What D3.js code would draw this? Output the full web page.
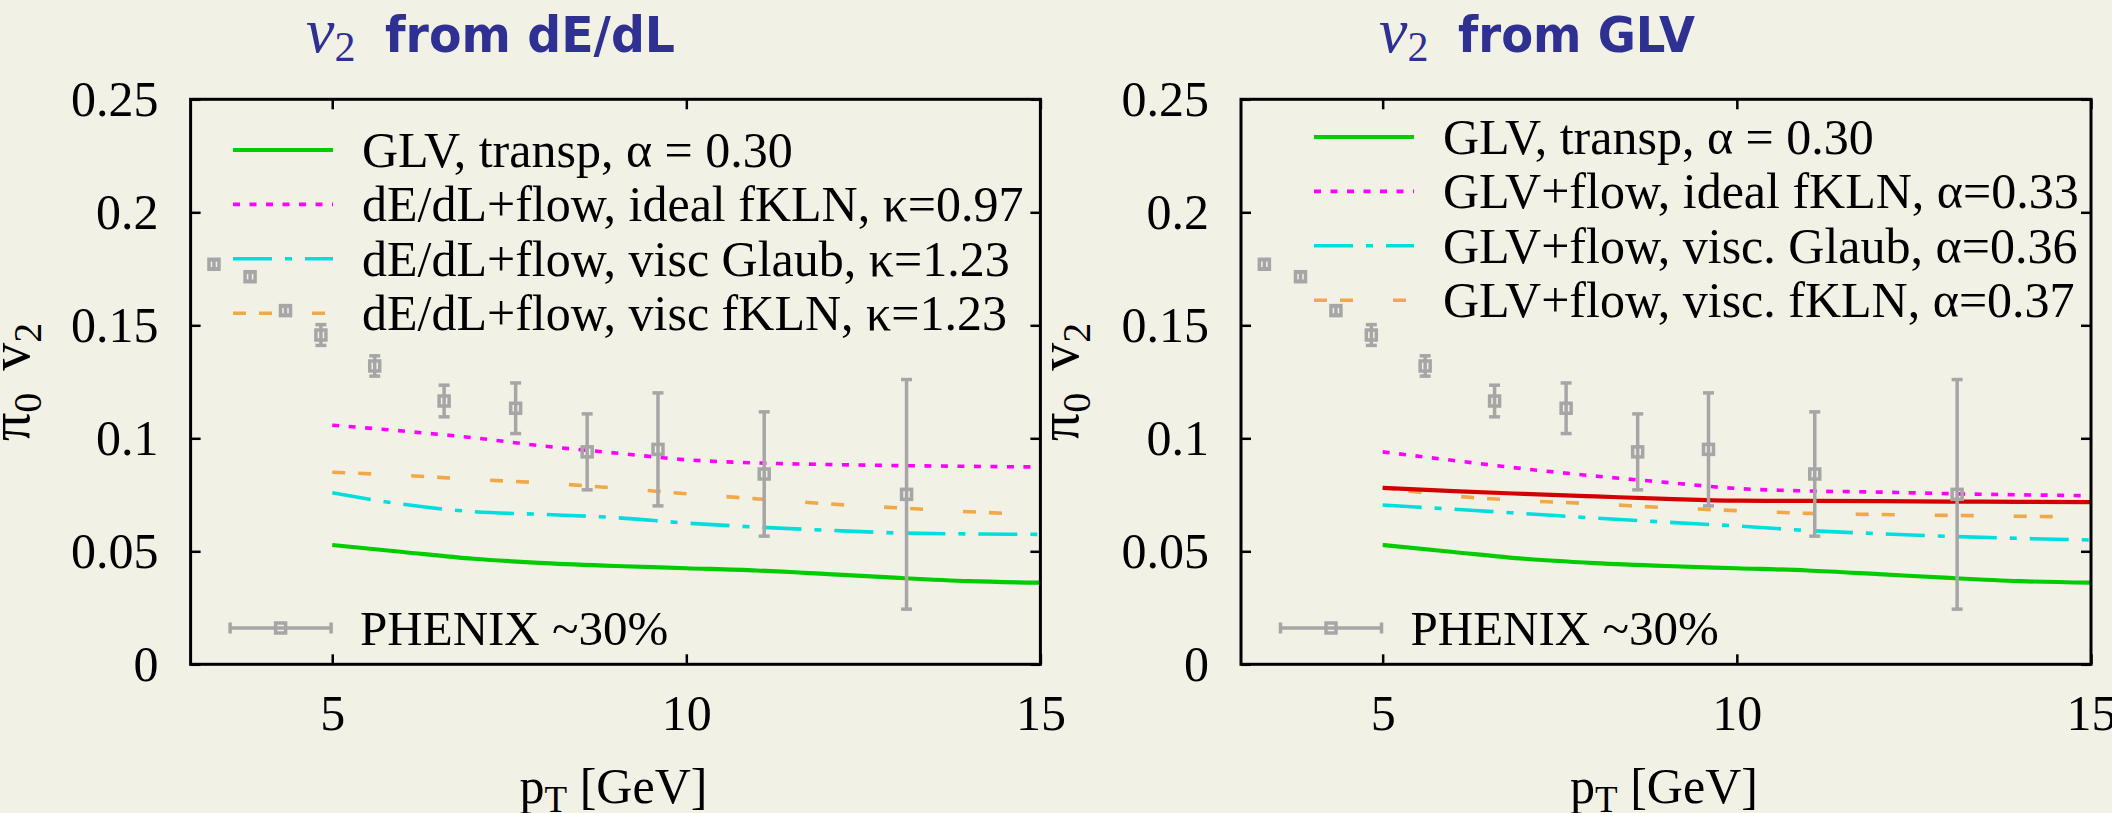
<!DOCTYPE html>
<html>
<head>
<meta charset="utf-8">
<script src="https://cdn.jsdelivr.net/npm/d3@7"></script>
<style>
body { margin: 0; background: #f2f1e6; }
</style>
</head>
<body>
<div id="container"></div>
<script>
var W = 2112, H = 813;

/* PHENIX pi0 v2, ~30% centrality (same in both panels) */
var phenixPt  = [3.33, 3.84, 4.34, 4.84, 5.60, 6.58, 7.59, 8.60, 9.60, 11.10, 13.11];
var phenixV2  = [0.177, 0.1715, 0.1565, 0.1457, 0.132, 0.1165, 0.1133, 0.094, 0.0951, 0.0842, 0.0752];
var phenixErr = [0.002, 0.002, 0.002, 0.0046, 0.0045, 0.007, 0.0112, 0.0168, 0.025, 0.0275, 0.0508];

/* model curves, read at these pT values */
var curvePt = [5, 6, 7, 8, 9, 10, 11, 12, 13, 14, 15];
var glvTransp      = [0.0528, 0.0497, 0.0467, 0.0448, 0.0435, 0.0425, 0.0415, 0.0399, 0.0382, 0.0368, 0.0361];
var dEdLIdealFKLN  = [0.1058, 0.1032, 0.1002, 0.0965, 0.0935, 0.0905, 0.0891, 0.0884, 0.0879, 0.0876, 0.0873];
var dEdLViscGlaub  = [0.0759, 0.0708, 0.0675, 0.0663, 0.0649, 0.0625, 0.0607, 0.0593, 0.0581, 0.0577, 0.0575];
var dEdLViscFKLN   = [0.0850, 0.0836, 0.0818, 0.0802, 0.0780, 0.0755, 0.0732, 0.0710, 0.0692, 0.0675, 0.0662];
var glvIdealFKLN   = [0.0940, 0.0902, 0.0865, 0.0833, 0.0805, 0.0778, 0.0767, 0.0762, 0.0755, 0.0750, 0.0746];
var glvViscGlaub   = [0.0705, 0.0686, 0.0667, 0.0647, 0.0629, 0.0612, 0.0592, 0.0578, 0.0566, 0.0557, 0.0550];
var glvViscFKLN    = [0.0782, 0.0745, 0.0724, 0.0710, 0.0693, 0.0680, 0.0668, 0.0663, 0.0659, 0.0655, 0.0652];
var glvRed         = [0.0781, 0.0766, 0.0754, 0.0743, 0.0732, 0.0724, 0.0723, 0.0722, 0.0720, 0.0719, 0.0718]; // no key entry

var xTicks = [5, 10, 15];
var yTicks = [0, 0.05, 0.1, 0.15, 0.2, 0.25];

var titles = ['from dE/dL', 'from GLV'];
var leftKey  = ['GLV, transp, α = 0.30', 'dE/dL+flow, ideal fKLN, κ=0.97', 'dE/dL+flow, visc Glaub, κ=1.23', 'dE/dL+flow, visc fKLN, κ=1.23'];
var rightKey = ['GLV, transp, α = 0.30', 'GLV+flow, ideal fKLN, α=0.33', 'GLV+flow, visc. Glaub, α=0.36', 'GLV+flow, visc. fKLN, α=0.37'];
var dataKey = 'PHENIX ~30%';

/* line styles: solid green, dotted magenta, dash-dot cyan, dashed orange, red */
var styles = [
    {color: '#00cc00', width: 4.2, dash: null},
    {color: '#ff00ff', width: 3.6, dash: '7,9.5'},
    {color: '#00dede', width: 3.6, dash: '39,13,7,13'},
    {color: '#f0a848', width: 3.6, dash: '13,13,13,40'},
    {color: '#d40000', width: 4.2, dash: null}
];
var gray = '#a6a6a6';
var serif = "'Liberation Serif', 'Times New Roman', serif";

var plotTop = 99.3, plotBottom = 664.3;

var panels = [
    {x0: 190.6, x1: 1040.4, title: titles[0], titleX: 306, titleW: 290, ylabX: 29,
     keyX: 233, keyY: 167, keyText: leftKey,
     series: [glvTransp, dEdLIdealFKLN, dEdLViscGlaub, dEdLViscFKLN], styleIdx: [0, 1, 2, 3]},
    {x0: 1241, x1: 2091, title: titles[1], titleX: 1379, titleW: 237, ylabX: 1078,
     keyX: 1314, keyY: 154, keyText: rightKey,
     series: [glvTransp, glvIdealFKLN, glvViscGlaub, glvViscFKLN, glvRed], styleIdx: [0, 1, 2, 3, 4]}
];

var svg = d3.select('#container').append('svg')
    .attr('width', W)
    .attr('height', H);

svg.append('rect').attr('width', W).attr('height', H).attr('fill', '#f2f1e6');

var yScale = d3.scaleLinear().domain([0, 0.25]).range([plotBottom, plotTop]);

function styleAxis(g) {
    g.select('.domain').remove();
    g.attr('font-size', 50).attr('font-family', serif);
    g.selectAll('line').attr('stroke', '#000').attr('stroke-width', 2.5);
    g.selectAll('text').attr('fill', '#000');
}

panels.forEach(function(p) {
    var xScale = d3.scaleLinear().domain([3, 15]).range([p.x0, p.x1]);
    var g = svg.append('g');

    // axes, ticks pointing in on all four sides
    g.append('g').attr('transform', `translate(0,${plotBottom})`)
        .call(d3.axisBottom(xScale).tickValues(xTicks).tickSizeInner(-10).tickSizeOuter(0).tickPadding(30))
        .call(styleAxis);
    g.append('g').attr('transform', `translate(0,${plotTop})`)
        .call(d3.axisTop(xScale).tickValues(xTicks).tickSizeInner(-10).tickSizeOuter(0).tickFormat(''))
        .call(styleAxis);
    g.append('g').attr('transform', `translate(${p.x0},0)`)
        .call(d3.axisLeft(yScale).tickValues(yTicks).tickSizeInner(-10).tickSizeOuter(0).tickPadding(32).tickFormat(d => String(d)))
        .call(styleAxis);
    g.append('g').attr('transform', `translate(${p.x1},0)`)
        .call(d3.axisRight(yScale).tickValues(yTicks).tickSizeInner(-10).tickSizeOuter(0).tickFormat(''))
        .call(styleAxis);

    // model curves
    var line = d3.line()
        .x(d => xScale(d[0]))
        .y(d => yScale(d[1]))
        .curve(d3.curveMonotoneX);

    p.series.forEach(function(vals, i) {
        var s = styles[p.styleIdx[i]];
        g.append('path')
            .datum(curvePt.map((x, k) => [x, vals[k]]))
            .attr('d', line)
            .attr('fill', 'none')
            .attr('stroke', s.color)
            .attr('stroke-width', s.width)
            .attr('stroke-dasharray', s.dash);
    });

    // PHENIX points with error bars
    var pts = phenixPt.map((x, k) => ({x: x, y: phenixV2[k], e: phenixErr[k]}));
    var pg = g.append('g').attr('stroke', gray).attr('stroke-width', 3.5).attr('fill', 'none');
    pg.selectAll('.ebar').data(pts).enter().append('line').classed('ebar', true)
        .attr('x1', d => xScale(d.x)).attr('x2', d => xScale(d.x))
        .attr('y1', d => yScale(d.y - d.e)).attr('y2', d => yScale(d.y + d.e));
    pg.selectAll('.capLo').data(pts).enter().append('line').classed('capLo', true)
        .attr('x1', d => xScale(d.x) - 5.5).attr('x2', d => xScale(d.x) + 5.5)
        .attr('y1', d => yScale(d.y - d.e)).attr('y2', d => yScale(d.y - d.e));
    pg.selectAll('.capHi').data(pts).enter().append('line').classed('capHi', true)
        .attr('x1', d => xScale(d.x) - 5.5).attr('x2', d => xScale(d.x) + 5.5)
        .attr('y1', d => yScale(d.y + d.e)).attr('y2', d => yScale(d.y + d.e));
    pg.selectAll('.sq').data(pts).enter().append('rect').classed('sq', true)
        .attr('x', d => xScale(d.x) - 5).attr('y', d => yScale(d.y) - 5)
        .attr('width', 10).attr('height', 10);

    // key for curves
    p.keyText.forEach(function(t, i) {
        var s = styles[i];
        var yb = p.keyY + i * 54.4;
        g.append('line')
            .attr('x1', p.keyX).attr('x2', p.keyX + 100)
            .attr('y1', yb - 17).attr('y2', yb - 17)
            .attr('stroke', s.color).attr('stroke-width', s.width)
            .attr('stroke-dasharray', s.dash);
        g.append('text')
            .attr('x', p.keyX + 129).attr('y', yb)
            .attr('font-family', serif).attr('font-size', 50)
            .text(t);
    });

    // key for data
    var kx = p.x0 + 39.5, ky = 628;
    var kg = g.append('g').attr('stroke', gray).attr('stroke-width', 3.5).attr('fill', 'none');
    kg.append('line').attr('x1', kx).attr('x2', kx + 101).attr('y1', ky).attr('y2', ky);
    kg.append('line').attr('x1', kx).attr('x2', kx).attr('y1', ky - 5.5).attr('y2', ky + 5.5);
    kg.append('line').attr('x1', kx + 101).attr('x2', kx + 101).attr('y1', ky - 5.5).attr('y2', ky + 5.5);
    kg.append('rect').attr('x', kx + 50.5 - 5).attr('y', ky - 5).attr('width', 10).attr('height', 10);
    g.append('text')
        .attr('x', p.x0 + 169.5).attr('y', 645)
        .attr('font-family', serif).attr('font-size', 49)
        .text(dataKey);

    // frame
    g.append('rect')
        .attr('x', p.x0).attr('y', plotTop)
        .attr('width', p.x1 - p.x0).attr('height', plotBottom - plotTop)
        .attr('fill', 'none').attr('stroke', '#000').attr('stroke-width', 3);

    // axis titles
    var xl = g.append('text')
        .attr('x', (p.x0 + p.x1) / 2 - 2).attr('y', 803)
        .attr('text-anchor', 'middle')
        .attr('font-family', serif).attr('font-size', 50);
    xl.append('tspan').text('p');
    xl.append('tspan').attr('font-size', 37).attr('dy', 9).text('T');
    xl.append('tspan').attr('dy', -9).text(' [GeV]');

    var yl = g.append('text')
        .attr('transform', `translate(${p.ylabX},${(plotTop + plotBottom) / 2}) rotate(-90)`)
        .attr('text-anchor', 'middle')
        .attr('font-family', serif).attr('font-size', 56);
    yl.append('tspan').text('π');
    yl.append('tspan').attr('font-size', 40).attr('dy', 12).text('0');
    yl.append('tspan').attr('dy', -12).attr('dx', 8).text(' v');
    yl.append('tspan').attr('font-size', 40).attr('dy', 12).text('2');

    // panel title
    var tt = g.append('text')
        .attr('x', p.titleX).attr('y', 52)
        .attr('fill', '#2e3192')
        .attr('font-family', serif);
    tt.append('tspan').attr('font-style', 'italic').attr('font-size', 64).text('v');
    tt.append('tspan').attr('font-size', 42).attr('dy', 9).text('2');
    g.append('text')
        .attr('x', p.titleX + 79).attr('y', 52)
        .attr('fill', '#2e3192')
        .attr('font-family', "'DejaVu Sans', sans-serif")
        .attr('font-weight', 'bold').attr('font-size', 50)
        .attr('textLength', p.titleW).attr('lengthAdjust', 'spacingAndGlyphs')
        .text(p.title);
});
</script>
</body>
</html>
